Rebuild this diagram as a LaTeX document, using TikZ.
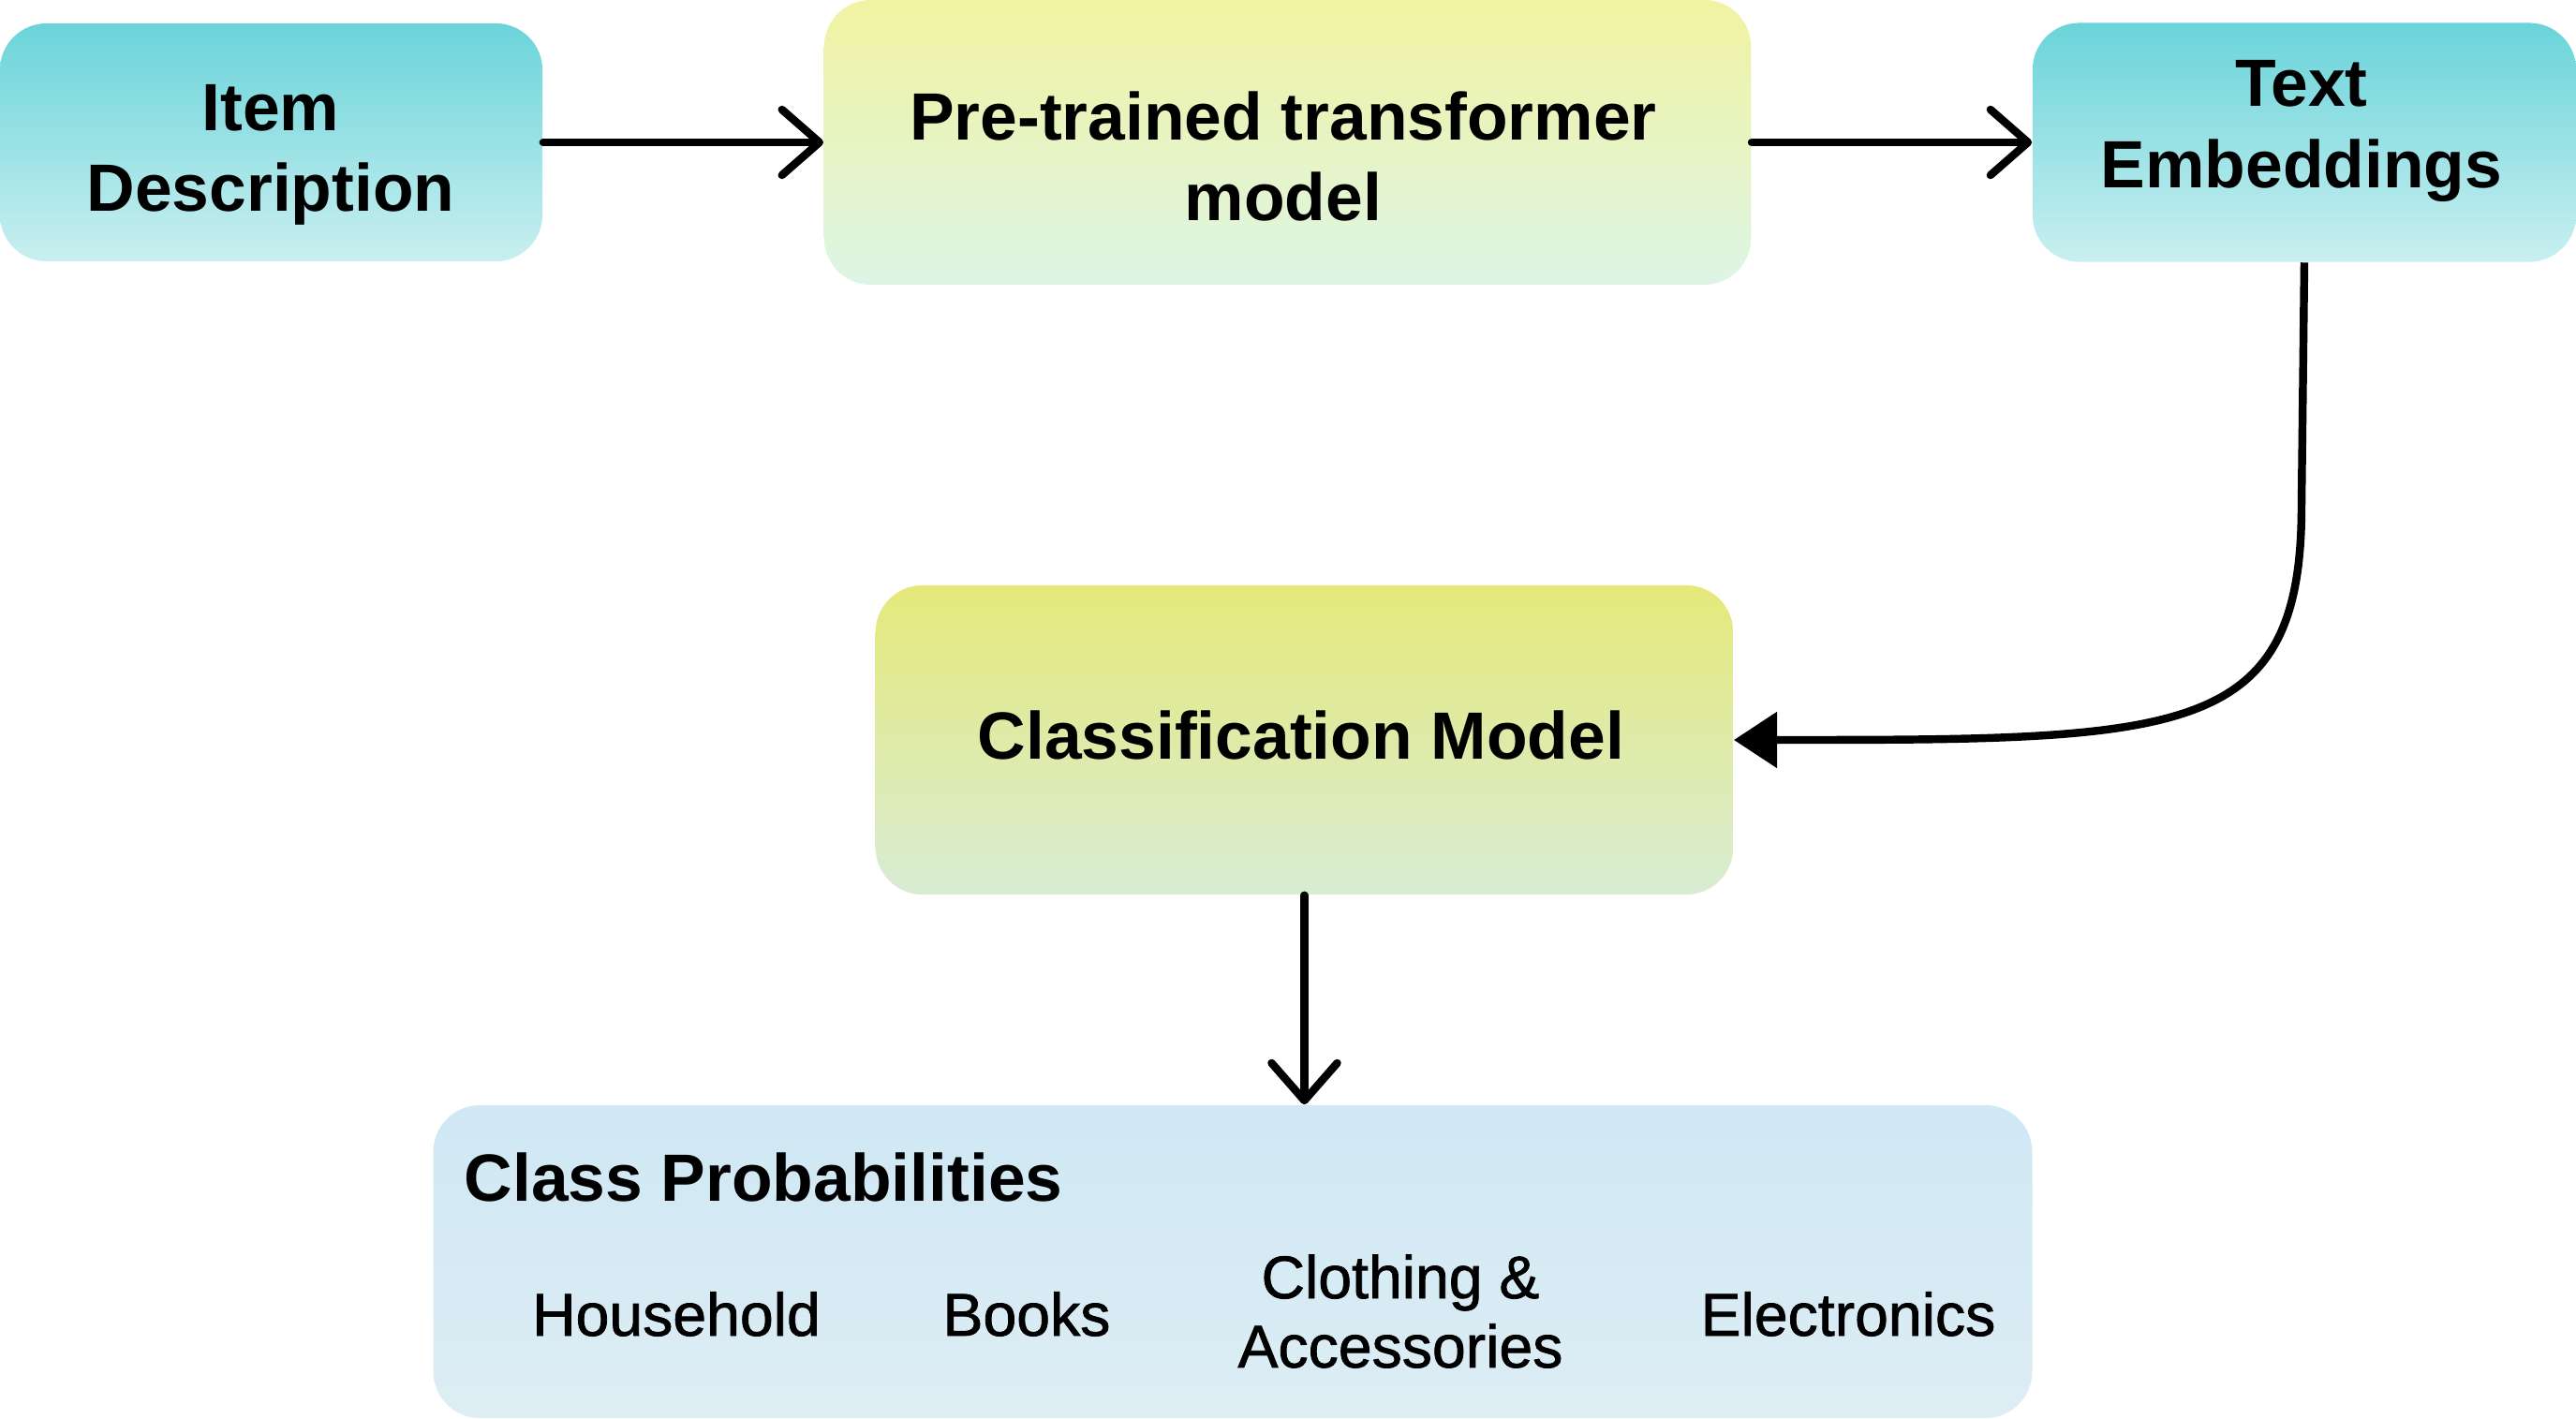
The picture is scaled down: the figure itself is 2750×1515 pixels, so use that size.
\documentclass[tikz,border=0pt]{standalone}
\usepackage{fontspec}
\setmainfont{Liberation Sans}
\newfontfamily\medfont{Liberation Sans}[FakeBold=1.2]
\usepackage{xcolor}
\usepackage{tikz}
\usetikzlibrary{arrows.meta, positioning}
\definecolor{tealtop}{HTML}{6AD4DA}
\definecolor{tealbot}{HTML}{C9EFF0}
\definecolor{yeltop}{HTML}{F1F3A0}
\definecolor{yelbot}{HTML}{DDF5E6}
\definecolor{clstop}{HTML}{E5E97A}
\definecolor{clsmid}{HTML}{D0E6A8}
\definecolor{clsbot}{HTML}{D8ECD4}
\definecolor{probtop}{HTML}{CFE8F4}
\definecolor{probbot}{HTML}{DDEDF4}

\tikzset{
  box/.style={rectangle, rounded corners=0.5cm, draw=none},
  boxtext/.style={font=\fontsize{20.3}{24.5}\selectfont\bfseries, align=center, inner sep=0pt},
  cattext/.style={font=\fontsize{18.3}{21}\selectfont\medfont, align=center, inner sep=0pt},
  flow/.style={line width=2.4pt, line cap=round, -{Straight Barb[length=0.4cm, width=0.7cm, line cap=round, line join=round]}},
}

\begin{document}
\begin{tikzpicture}[x=0.01cm, y=-0.01cm]
\useasboundingbox (0,0) rectangle (2750,1515);

% Boxes
\node[box, top color=tealtop, bottom color=tealbot, minimum width=5.79cm, minimum height=2.54cm] (item) at (289.5,152) {};
\node[box, top color=yeltop, bottom color=yelbot, minimum width=9.89cm, minimum height=3.04cm] (pre) at (1374.5,152) {};
\node[box, top color=tealtop, bottom color=tealbot, minimum width=5.80cm, minimum height=2.55cm] (emb) at (2460,152) {};
\node[box, top color=clstop, middle color=clsmid, bottom color=clsbot, minimum width=9.15cm, minimum height=3.30cm] (cls) at (1392.5,790) {};
\node[box, top color=probtop, bottom color=probbot, minimum width=17.06cm, minimum height=3.34cm] (prob) at (1316,1347) {};

% Texts
\node[boxtext] (itemtxt) at (289,165) {Item\\Description};
\node[boxtext] (pretxt) at (1370,167) {Pre-trained transformer\\model};
\node[boxtext] (embtxt) at (2457,140) {Text\\Embeddings};
\node[boxtext] (clstxt) at (1389,785) {Classification Model};
\node[boxtext, anchor=west] (probtxt) at (495,1257) {Class Probabilities};

\node[cattext] (house) at (722,1403) {Household};
\node[cattext] (books) at (1096,1403) {Books};
\node[cattext] (cloth) at (1495,1400) {Clothing \&\\Accessories};
\node[cattext] (elec) at (1973,1403) {Electronics};

% Connectors
\draw[flow] (item.east) -- (item.east -| pre.west);
\draw[flow] (pre.east) -- (pre.east -| emb.west);
\draw[line width=2.4pt, -{Triangle[length=0.46cm, width=0.58cm]}]
  (emb.south) -- (2457,540) .. controls (2457,790) and (2330,790) .. (cls.east);
\draw[flow] (cls.south) -- (cls.south |- prob.north);
\end{tikzpicture}
\end{document}
